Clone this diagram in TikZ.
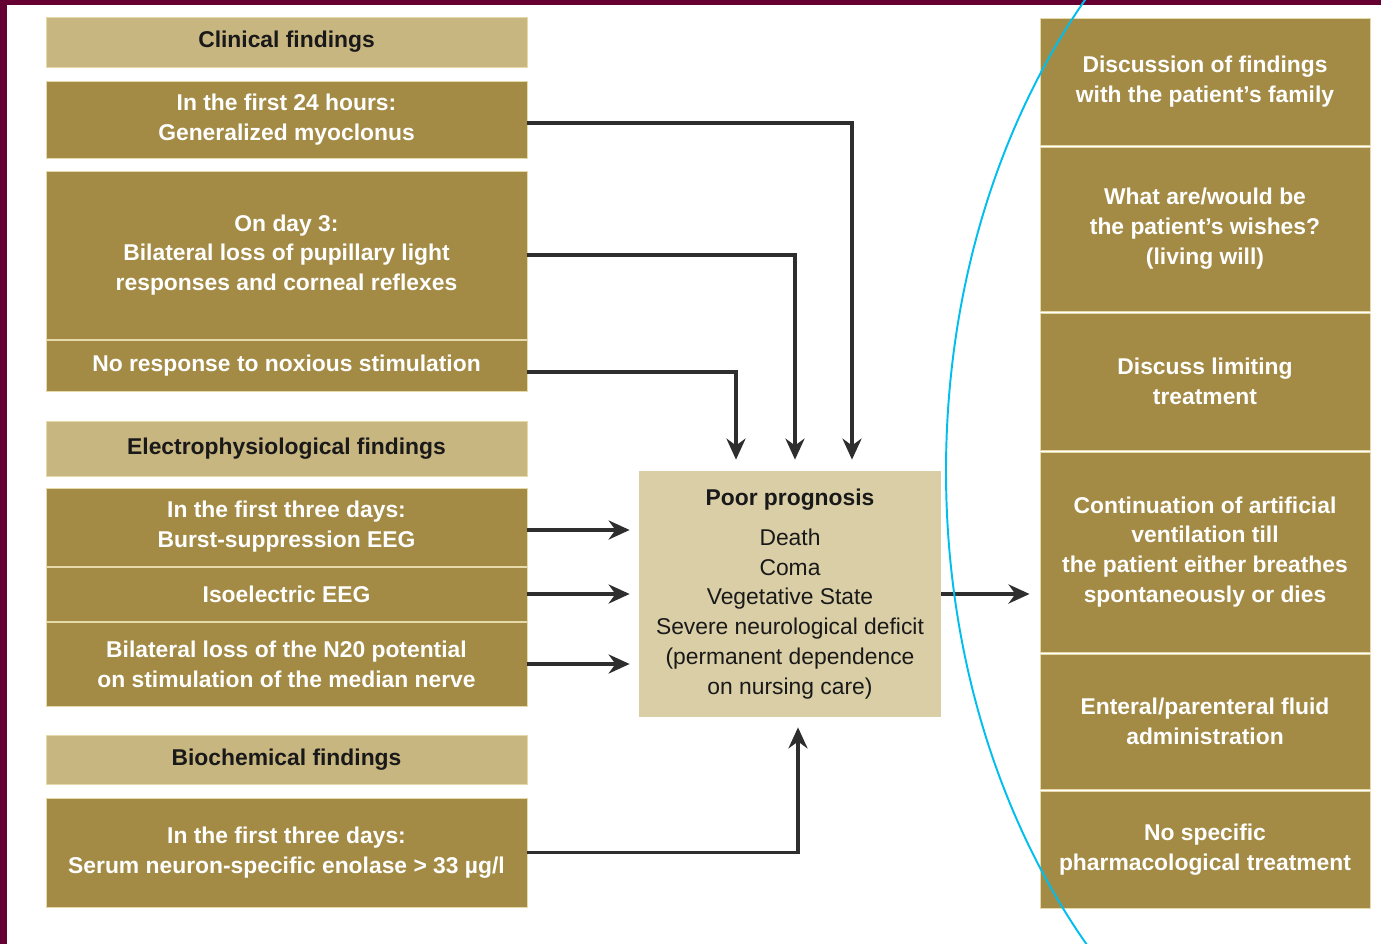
\documentclass[tikz,border=0pt]{standalone}
\usepackage{fontspec}
\setmainfont{Liberation Sans}
\usepackage{tikz}
\usetikzlibrary{calc,arrows.meta,positioning}

\definecolor{framemaroon}{HTML}{660033}
\definecolor{golddark}{HTML}{A38B45}
\definecolor{goldlight}{HTML}{C8B680}
\definecolor{goldpale}{HTML}{D9CEA6}
\definecolor{goldseam}{HTML}{E6D9AA}
\definecolor{arrowgray}{HTML}{2E2E2E}
\definecolor{markcyan}{HTML}{00BFEF}

\begin{document}
\begin{tikzpicture}[
    every node/.style={font=\fontsize{13}{17}\selectfont},
    hdr/.style={fill=goldlight, draw=goldseam, line width=0.5pt, minimum width=9.62cm, inner sep=0pt, text=black!90, font=\fontsize{13}{17}\selectfont\bfseries},
    fnd/.style={fill=golddark, draw=goldseam, line width=0.5pt, minimum width=9.62cm, inner sep=0pt, align=center, text=white, font=\fontsize{13}{17}\selectfont\bfseries},
    act/.style={fill=golddark, draw=goldseam, line width=0.5pt, minimum width=6.60cm, inner sep=0pt, align=center, text=white, font=\fontsize{13}{17}\selectfont\bfseries},
    outcome/.style={fill=goldpale, minimum width=6.04cm, minimum height=4.92cm, inner sep=0pt, align=center, text=black!90},
    arr/.style={-{Stealth[length=0.42cm, width=0.38cm]}, line width=2.1pt, arrowgray}
  ]
    \useasboundingbox (0,0) rectangle (27.62,-18.88);
    \fill[white] (0,0) rectangle (27.62,-18.88);
    \fill[framemaroon] (0,0) rectangle (0.15,-18.88);
    \fill[framemaroon] (0,0) rectangle (27.62,-0.11);

    % findings
    \node[hdr, minimum height=1.00cm] (h1) at (5.73,-0.84) {Clinical findings};
    \node[fnd, minimum height=1.54cm] (c1) at (5.73,-2.39) {In the first 24 hours:\\Generalized myoclonus};
    \node[fnd, minimum height=3.36cm] (c2) at (5.73,-5.10) {On day 3:\\Bilateral loss of pupillary light\\responses and corneal reflexes};
    \node[fnd, minimum height=1.02cm] (c3) at (5.73,-7.31) {No response to noxious stimulation};
    \node[hdr, minimum height=1.10cm] (h2) at (5.73,-8.97) {Electrophysiological findings};
    \node[fnd, minimum height=1.56cm] (e1) at (5.73,-10.54) {In the first three days:\\Burst-suppression EEG};
    \node[fnd, minimum height=1.08cm] (e2) at (5.73,-11.88) {Isoelectric EEG};
    \node[fnd, minimum height=1.68cm] (e3) at (5.73,-13.28) {Bilateral loss of the N20 potential\\on stimulation of the median nerve};
    \node[hdr, minimum height=0.98cm] (h3) at (5.73,-15.19) {Biochemical findings};
    \node[fnd, minimum height=2.18cm] (b1) at (5.73,-17.05) {In the first three days:\\Serum neuron-specific enolase > 33 µg/l};

    % prognosis
    \node[outcome] (prog) at (15.80,-11.88) {{\bfseries Poor prognosis}\\[0.2cm]Death\\Coma\\Vegetative State\\Severe neurological deficit\\(permanent dependence\\on nursing care)};

    % actions
    \node[act, minimum height=2.54cm] (r1) at (24.10,-1.63) {Discussion of findings\\with the patient's family};
    \node[act, minimum height=3.28cm] (r2) at (24.10,-4.58) {What are/would be\\the patient's wishes?\\(living will)};
    \node[act, minimum height=2.74cm] (r3) at (24.10,-7.63) {Discuss limiting\\treatment};
    \node[act, minimum height=4.00cm] (r4) at (24.10,-11.04) {Continuation of artificial\\ventilation till\\the patient either breathes\\spontaneously or dies};
    \node[act, minimum height=2.70cm] (r5) at (24.10,-14.43) {Enteral/parenteral fluid\\administration};
    \node[act, minimum height=2.34cm] (r6) at (24.10,-16.99) {No specific\\pharmacological treatment};

    \draw[arr, shorten >=0.22cm] ([yshift=-0.07cm]c1.east) -| ($(prog.north)+(1.24,0)$);
    \draw[arr, shorten >=0.22cm] (c2.east) -| ($(prog.north)+(0.10,0)$);
    \draw[arr, shorten >=0.22cm] ([yshift=-0.13cm]c3.east) -| ($(prog.north)+(-1.08,0)$);
    \draw[arr, shorten >=0.18cm] ([yshift=-0.06cm]e1.east) -- ([yshift=-0.06cm]e1.east -| prog.west);
    \draw[arr, shorten >=0.18cm] (e2.east) -- (e2.east -| prog.west);
    \draw[arr, shorten >=0.18cm] (e3.east) -- (e3.east -| prog.west);
    \draw[arr, shorten >=0.2cm] (b1.east) -| ($(prog.south)+(0.16,0)$);
    \draw[arr, shorten >=0.2cm] (prog.east) -- (prog.east -| r4.west);

    \begin{scope}
      \clip (0,0) rectangle (27.62,-18.88);
      \draw[markcyan, line width=1.1pt] (29.60,-9.42) ellipse [x radius=10.68cm, y radius=14.0cm];
    \end{scope}
  \end{tikzpicture}
\end{document}
